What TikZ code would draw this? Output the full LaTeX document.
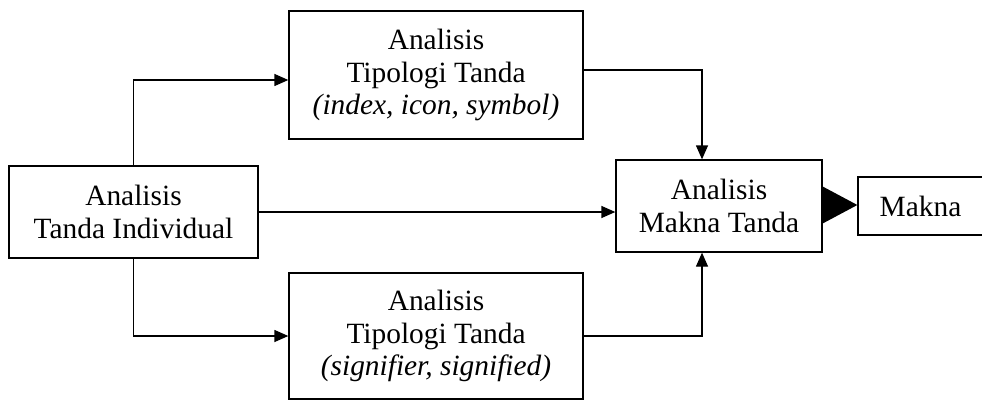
\documentclass[tikz,border=0pt]{standalone}
\usepackage{fontspec}
\setmainfont{Liberation Serif}
\usetikzlibrary{arrows.meta}

\begin{document}
\begin{tikzpicture}[x=1pt, y=-1pt,
  box/.style={draw, line width=1.3pt, rectangle, align=center, inner sep=0pt,
              font=\fontsize{29.4}{32.5}\selectfont},
  link/.style={line width=1.3pt, -{Triangle[length=14pt, width=12pt]}},
  bigtip/.style={line width=1.3pt, -{Triangle[length=35pt, width=37pt]}}]

  \useasboundingbox (0,0) rectangle (982,401);

  % boxes
  \node[box, minimum width=249pt, minimum height=92pt]  (ind) at (133.5,212) {Analisis\\Tanda Individual};
  \node[box, minimum width=294pt, minimum height=128pt] (top) at (436,75)    {Analisis\\Tipologi Tanda\\\textit{(index, icon, symbol)}};
  \node[box, minimum width=294pt, minimum height=126pt] (bot) at (436,336)   {Analisis\\Tipologi Tanda\\\textit{(signifier, signified)}};
  \node[box, minimum width=206pt, minimum height=92pt]  (mid) at (719,206)   {Analisis\\Makna Tanda};
  \node[box, minimum width=125pt, minimum height=58pt]  (mak) at (920.5,206) {Makna};

  % connectors
  \draw[link] (ind.north) |- ([yshift=-5pt]top.west);
  \draw[link] (ind.south) |- (bot.west);
  \draw[link] (ind.east) -- (ind.east -| mid.west);
  \draw[link] ([yshift=5pt]top.east) -| ([xshift=-17pt]mid.north);
  \draw[link] (bot.east) -| ([xshift=-17pt]mid.south);
  \draw[bigtip] (mid.east |- 0,205) -- (mak.west |- 0,205);
\end{tikzpicture}
\end{document}
